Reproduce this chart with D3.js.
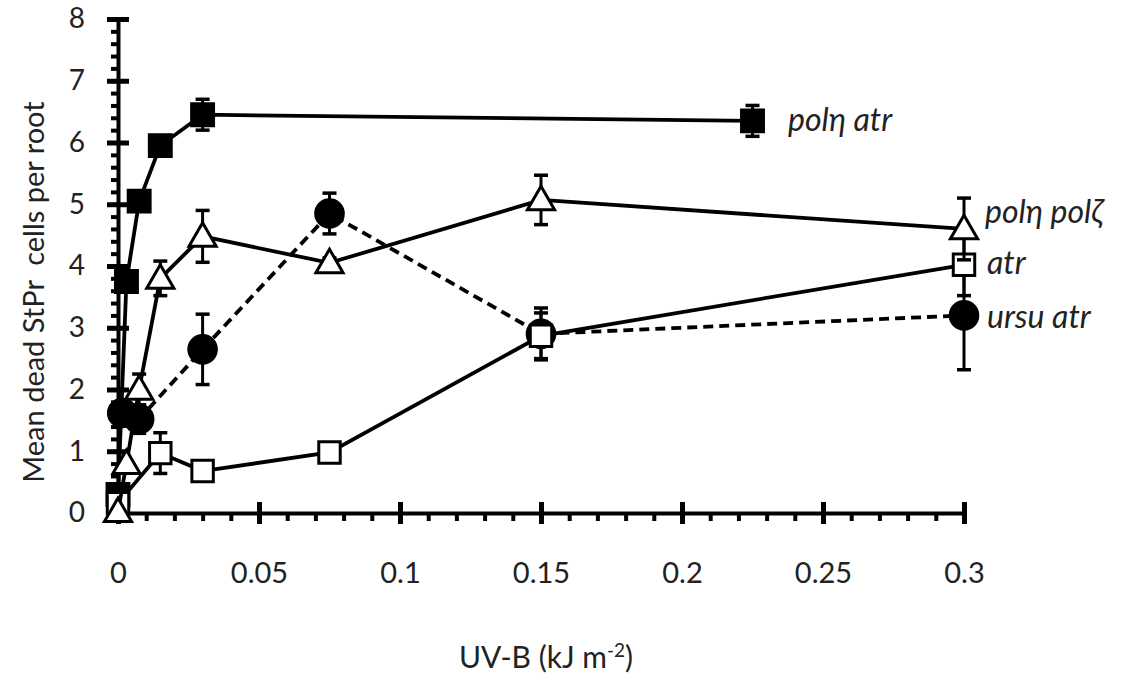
<!DOCTYPE html>
<html>
<head>
<meta charset="utf-8">
<script src="https://cdn.jsdelivr.net/npm/d3@7"></script>
<style>
  body { margin: 0; background: #fff; }
  svg text { font-family: Lato, "Open Sans", sans-serif; fill: #222; }
</style>
</head>
<body>
<div id="chart"></div>
<script>
// dose (kJ m-2), mean dead cells, error
const polEtaAtr = [[0, 0.3, 0], [0.003, 3.75, 0], [0.0075, 5.05, 0], [0.015, 5.95, 0], [0.03, 6.45, 0.25], [0.225, 6.35, 0.25]];
const ursuAtr   = [[0.0015, 1.62, 0], [0.0075, 1.52, 0.23], [0.03, 2.65, 0.57], [0.075, 4.85, 0.33], [0.15, 2.9, 0.42], [0.3, 3.2, 0.88]];
const atr       = [[0, 0.16, 0], [0.015, 0.97, 0.33], [0.03, 0.68, 0.12], [0.075, 0.98, 0.15], [0.15, 2.87, 0.37], [0.3, 4.02, 0.5]];
const polEtaPolZeta = [[0, 0.02, 0], [0.003, 0.8, 0], [0.0075, 2.0, 0.25], [0.015, 3.8, 0.28], [0.03, 4.48, 0.42], [0.075, 4.05, 0.08], [0.15, 5.07, 0.4], [0.3, 4.6, 0.5]];

const xTicks = [0, 0.05, 0.1, 0.15, 0.2, 0.25, 0.3];
const yTicks = [0, 1, 2, 3, 4, 5, 6, 7, 8];

const width = 1127, height = 675;

const x = d3.scaleLinear().domain([0, 0.3]).range([118, 964]);
const y = d3.scaleLinear().domain([0, 8]).range([513, 19]);

const svg = d3.select("#chart").append("svg")
  .attr("width", width).attr("height", height);

// minor ticks first (outside), then major crossing ticks
svg.append("g").attr("transform", `translate(${x(0)},0)`)
  .call(d3.axisLeft(y).tickValues(d3.range(0, 8.01, 0.2)).tickSize(7).tickFormat(""))
  .call(g => g.select(".domain").remove())
  .selectAll(".tick line").attr("stroke", "#000").attr("stroke-width", 4);

svg.append("g").attr("transform", `translate(0,${y(0)})`)
  .call(d3.axisBottom(x).tickValues(d3.range(0, 0.3001, 0.01)).tickSize(8).tickFormat(""))
  .call(g => g.select(".domain").remove())
  .selectAll(".tick line").attr("stroke", "#000").attr("stroke-width", 4);

const yAxis = svg.append("g").attr("transform", `translate(${x(0)},0)`)
  .call(d3.axisLeft(y).tickValues(yTicks).tickSize(0).tickPadding(0).tickSizeOuter(0).tickFormat(d3.format("d")));
yAxis.select(".domain").attr("stroke", "#000").attr("stroke-width", 4);
yAxis.selectAll(".tick line").attr("x1", -11).attr("x2", 11).attr("stroke", "#000").attr("stroke-width", 5);
yAxis.selectAll(".tick text").attr("x", -33).attr("font-size", 28).attr("fill", "#222");

const xAxis = svg.append("g").attr("transform", `translate(0,${y(0)})`)
  .call(d3.axisBottom(x).tickValues(xTicks).tickSize(0).tickSizeOuter(0).tickFormat(d3.format("")));
xAxis.select(".domain").attr("stroke", "#000").attr("stroke-width", 4);
xAxis.selectAll(".tick line").attr("y1", -11).attr("y2", 11).attr("stroke", "#000").attr("stroke-width", 5);
xAxis.selectAll(".tick text").attr("y", 49).attr("font-size", 29).attr("fill", "#222");

// axis titles
svg.append("text")
  .attr("transform", `translate(44,${(y(0) + y(8)) / 2 + 26}) rotate(-90)`)
  .attr("text-anchor", "middle").attr("font-size", 29)
  .text("Mean dead StPr\u00a0 cells per root");

const xt = svg.append("text")
  .attr("x", 546).attr("y", 668)
  .attr("text-anchor", "middle").attr("font-size", 30);
xt.append("tspan").text("UV-B (kJ m");
xt.append("tspan").attr("dy", -11).attr("font-size", 19).text("-2");
xt.append("tspan").attr("dy", 11).text(")");

const line = d3.line().x(d => x(d[0])).y(d => y(d[1]));

function drawSeries(data, opts) {
  const g = svg.append("g");
  g.append("path").datum(data)
    .attr("d", line).attr("fill", "none").attr("stroke", "#000")
    .attr("stroke-width", 3.8).attr("stroke-dasharray", opts.dash || null);

  const eb = g.selectAll("g.err").data(data.filter(d => d[2] > 0)).join("g");
  eb.append("line")
    .attr("x1", d => x(d[0])).attr("x2", d => x(d[0]))
    .attr("y1", d => y(d[1] - d[2])).attr("y2", d => y(d[1] + d[2]))
    .attr("stroke", "#000").attr("stroke-width", 3);
  [-1, 1].forEach(s => {
    eb.append("line")
      .attr("x1", d => x(d[0]) - 7).attr("x2", d => x(d[0]) + 7)
      .attr("y1", d => y(d[1] + s * d[2])).attr("y2", d => y(d[1] + s * d[2]))
      .attr("stroke", "#000").attr("stroke-width", 3.5);
  });

  const sym = d3.symbol().type(opts.shape).size(opts.size);
  g.selectAll("path.mark").data(data).join("path")
    .attr("class", "mark")
    .attr("transform", d => `translate(${x(d[0])},${y(d[1]) + (opts.dy || 0)})`)
    .attr("d", sym)
    .attr("fill", opts.fill).attr("stroke", "#000").attr("stroke-width", 3);
}

drawSeries(polEtaAtr, { shape: d3.symbolSquare, size: 480, fill: "#000" });
drawSeries(ursuAtr, { shape: d3.symbolCircle, size: 600, fill: "#000", dash: "10,6" });
drawSeries(atr, { shape: d3.symbolSquare, size: 460, fill: "#fff" });
drawSeries(polEtaPolZeta, { shape: d3.symbolTriangle, size: 320, fill: "#fff", dy: 2 });

// series labels
const labels = [
  { t: "pol\u03b7 atr", x: 788, y: 131 },
  { t: "pol\u03b7 pol\u03b6", x: 985, y: 223 },
  { t: "atr", x: 987, y: 274 },
  { t: "ursu atr", x: 987, y: 328 }
];
svg.selectAll("text.lab").data(labels).join("text")
  .attr("class", "lab")
  .attr("x", d => d.x).attr("y", d => d.y)
  .attr("font-size", 32).attr("font-style", "italic")
  .text(d => d.t);
</script>
</body>
</html>
